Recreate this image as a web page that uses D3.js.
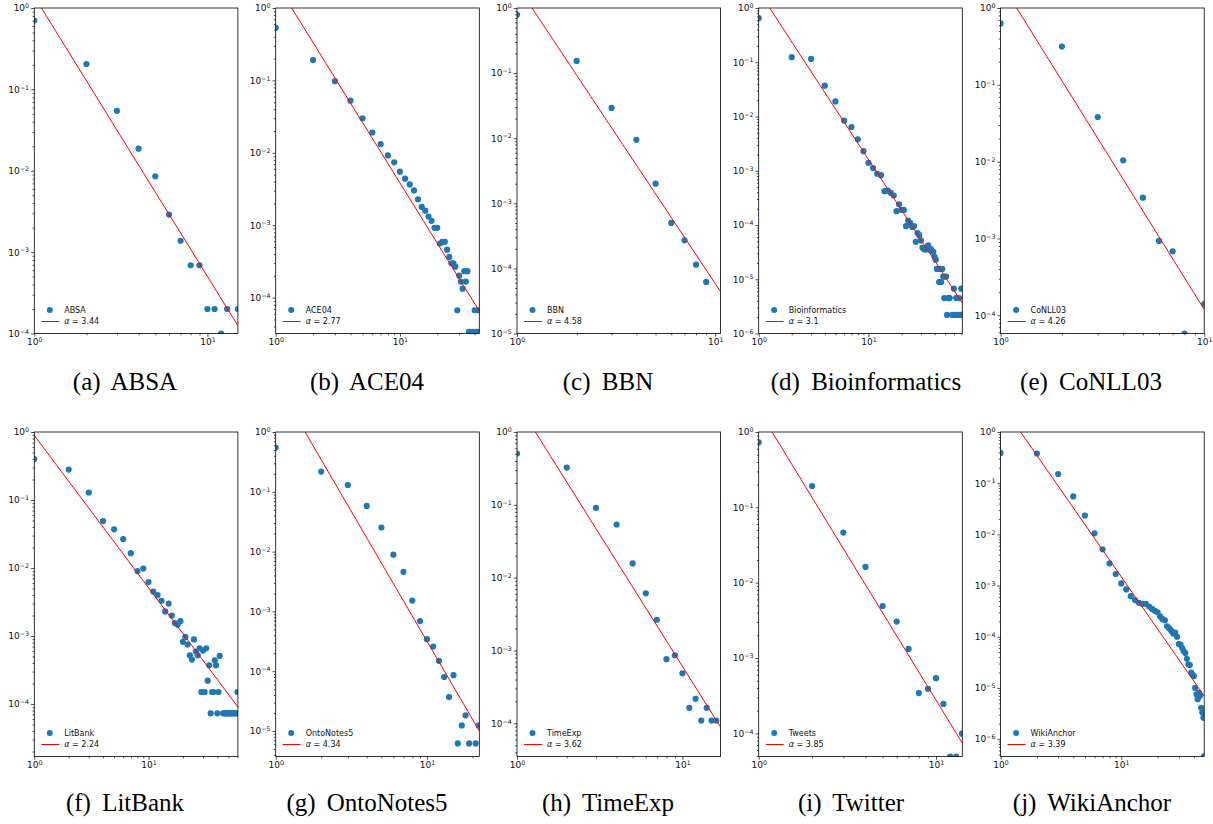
<!DOCTYPE html>
<html>
<head>
<meta charset="utf-8">
<script src="https://cdn.jsdelivr.net/npm/d3@7"></script>
<style>
  body { margin: 0; background: #fff; }
  svg { display: block; }
</style>
</head>
<body>
<svg id="chart" width="1213" height="824"></svg>
<script>
// Entity-length distributions: [length, relative frequency]
const absa = [[1,0.70],[2,0.205],[3,0.0545],[4,0.0187],[5,0.00855],[6,0.00289],[7,0.00138],[8,0.00069],[9,0.00069],[10,0.0002],[11,0.0002],[12,0.0001],[13,0.0002],[15,0.0002]];
const ace04 = [[1,0.532],[2,0.191],[3,0.0976],[4,0.0525],[5,0.030],[6,0.0191],[7,0.0132],[8,0.0092],[9,0.0074],[10,0.0055],[11,0.0044],[12,0.00366],[13,0.00303],[14,0.00228],[15,0.00179],[16,0.00159],[17,0.00132],[18,0.00115],[19,0.00092],[20,0.00092],[21,0.00056],[22,0.00059],[23,0.00059],[24,0.00046],[25,0.000365],[26,0.000298],[27,0.000298],[28,0.000268],[29,0.000067],[30,0.000202],[31,0.000167],[32,0.000133],[33,0.000232],[34,0.000167],[35,0.000232],[36,0.0000337],[37,0.0000337],[39,0.0000337],[40,0.000067],[41,0.0000337],[42,0.0000337],[43,0.000067]];
const bbn = [[1,0.79],[2,0.154],[3,0.0292],[4,0.00945],[5,0.002],[6,0.0005],[7,0.00027],[8,0.000114],[9,0.000062]];
const bioinformatics = [[1,0.65],[2,0.124],[3,0.115],[4,0.037],[5,0.019],[6,0.0084],[7,0.0064],[8,0.0038],[9,0.0023],[10,0.0014],[11,0.00112],[12,0.00088],[13,0.00083],[14,0.00042],[15,0.00043],[16,0.00039],[17,0.00035],[18,0.00018],[19,0.00024],[20,0.00019],[21,0.00019],[22,0.000095],[23,0.00012],[24,0.00011],[25,0.000092],[26,0.000095],[27,0.000049],[28,0.000071],[29,0.000065],[30,0.000052],[31,0.000038],[32,0.000036],[33,0.000035],[34,0.000037],[35,0.000042],[36,0.000035],[37,0.000036],[38,0.000033],[39,0.000032],[40,0.000026],[41,0.000023],[42,0.0000155],[43,0.0000155],[44,0.0000089],[45,0.0000155],[46,0.0000089],[47,0.0000155],[48,0.0000112],[49,0.0000045],[50,0.0000112],[51,0.0000112],[52,0.0000022],[53,0.0000045],[54,0.0000045],[55,0.0000045],[58,0.0000022],[60,0.0000067],[61,0.0000022],[63,0.0000045],[64,0.0000022],[66,0.0000022],[67,0.0000045],[69,0.0000022],[70,0.0000067],[71,0.0000022]];
const conll03 = [[1,0.63],[2,0.315],[3,0.038],[4,0.0104],[5,0.0034],[6,0.00093],[7,0.00068],[8,0.000058],[10,0.00014]];
const litbank = [[1,0.40],[2,0.28],[3,0.129],[4,0.049],[5,0.037],[6,0.0267],[7,0.0165],[8,0.0090],[9,0.0098],[10,0.0062],[11,0.0045],[12,0.0040],[13,0.0033],[14,0.0023],[15,0.0030],[16,0.0020],[17,0.00155],[18,0.00146],[19,0.00165],[20,0.00082],[21,0.00097],[22,0.00075],[23,0.00052],[24,0.00045],[25,0.00089],[26,0.00059],[27,0.00052],[28,0.00066],[29,0.00015],[30,0.00061],[31,0.00015],[32,0.00066],[33,0.00022],[34,0.00037],[35,0.000073],[36,0.00015],[37,0.00015],[38,0.00044],[39,0.00037],[40,0.000073],[41,0.00015],[42,0.00051],[45,0.000073],[46,0.000073],[47,0.000073],[48,0.000073],[49,0.000073],[50,0.000073],[51,0.000073],[52,0.000073],[53,0.000073],[55,0.000073],[56,0.000073],[58,0.000073],[59,0.000073],[60,0.00015]];
const ontonotes5 = [[1,0.55],[2,0.218],[3,0.13],[4,0.058],[5,0.0253],[6,0.0089],[7,0.0046],[8,0.00152],[9,0.00069],[10,0.000344],[11,0.000259],[12,0.000149],[13,0.00008],[14,0.000037],[15,0.000086],[16,0.0000062],[17,0.0000124],[18,0.0000183],[19,0.0000062],[21,0.0000062],[22,0.0000124]];
const timeexp = [[1,0.507],[2,0.325],[3,0.091],[4,0.0537],[5,0.0157],[6,0.0061],[7,0.00264],[8,0.00076],[9,0.00086],[10,0.000485],[11,0.000163],[12,0.000217],[13,0.000109],[14,0.000163],[15,0.000109],[16,0.000109]];
const tweets = [[1,0.73],[2,0.192],[3,0.0462],[4,0.0162],[5,0.0049],[6,0.00305],[7,0.00132],[8,0.000343],[9,0.00039],[10,0.00054],[11,0.000246],[12,0.0000493],[13,0.0000493],[14,0.000099]];
const wikianchor = [[1,0.39],[2,0.38],[3,0.151],[4,0.055],[5,0.0233],[6,0.0105],[7,0.0051],[8,0.0027],[9,0.00168],[10,0.0011],[11,0.00084],[12,0.00062],[13,0.00052],[14,0.00046],[15,0.00044],[16,0.00044],[17,0.00039],[18,0.00035],[19,0.00032],[20,0.00030],[21,0.00025],[22,0.00022],[23,0.00021],[24,0.00016],[25,0.000145],[26,0.00013],[27,0.000115],[28,0.00012],[29,0.0001],[30,0.000072],[31,0.00007],[32,0.00006],[33,0.000052],[34,0.000048],[35,0.000037],[36,0.000029],[37,0.000028],[38,0.00002],[39,0.000018],[40,0.000017],[41,0.00001],[42,0.0000075],[43,0.000006],[44,0.000008],[45,0.000007],[46,0.0000041],[47,0.0000033],[48,0.0000026],[48.5,0.00000046]];

const series = [absa, ace04, bbn, bioinformatics, conll03, litbank, ontonotes5, timeexp, tweets, wikianchor];
const legendNames = ["ABSA", "ACE04", "BBN", "Bioinformatics", "CoNLL03", "LitBank", "OntoNotes5", "TimeExp", "Tweets", "WikiAnchor"];
const captionNames = ["ABSA", "ACE04", "BBN", "Bioinformatics", "CoNLL03", "LitBank", "OntoNotes5", "TimeExp", "Twitter", "WikiAnchor"];
const letters = ["a", "b", "c", "d", "e", "f", "g", "h", "i", "j"];
// Fitted power law: p(x) = scale * x^(-alpha)
const alphas = [3.44, 2.77, 4.58, 3.1, 4.26, 2.24, 4.34, 3.62, 3.85, 3.39];
const fitScales = [1.387, 2.27, 2.22, 2.04, 2.17, 0.89, 6.97, 2.52, 1.95, 3.65];
// Axis limits
const xMaxes = [15.0, 43.6, 10.64, 71.6, 10, 60.6, 22.2, 17.0, 14.06, 48.7];
const yMins = [1e-4, 3.2e-5, 1e-5, 1e-6, 5.8e-5, 1.69e-5, 3.75e-6, 3.5e-5, 4.93e-5, 4.57e-7];

// Layout of the 2 x 5 grid
const colLeft = [34.3, 275.7, 517, 758.7, 1000.6];
const plotW = 203.6;
const rowTop = [8, 432];
const rowBottom = [333.5, 756.5];
const captionX = [[125, 367, 608, 866, 1091], [125, 367, 608, 851, 1092]];
const captionY = [390, 811];

const svg = d3.select("#chart");
const blue = "#1f77b4";
const tickFont = "'DejaVu Sans', sans-serif";

function supLabel(sel, d) {
  const e = Math.round(Math.log10(d));
  sel.text("10");
  sel.append("tspan")
    .attr("dy", "-0.5em")
    .attr("font-size", "0.7em")
    .text(e < 0 ? "\u2212" + (-e) : String(e));
}

series.forEach((data, i) => {
  const row = Math.floor(i / 5), col = i % 5;
  const L = colLeft[col], T = rowTop[row], B = rowBottom[row], W = plotW, H = B - T;
  const g = svg.append("g").attr("transform", `translate(${L},${T})`);

  const x = d3.scaleLog().domain([1, xMaxes[i]]).range([0, W]);
  const y = d3.scaleLog().domain([yMins[i], 1]).range([H, 0]);

  const clipId = "clip" + i;
  g.append("clipPath").attr("id", clipId)
    .append("rect").attr("width", W).attr("height", H);

  // major / minor tick values
  const xMajor = [], xMinor = [], yMajor = [], yMinor = [];
  for (let e = 0; e <= 2; e++) {
    const base = Math.pow(10, e);
    if (base <= xMaxes[i] * 1.0001) xMajor.push(base);
    for (let m = 2; m <= 9; m++) if (m * base <= xMaxes[i]) xMinor.push(m * base);
  }
  for (let e = -7; e <= 0; e++) {
    const base = Math.pow(10, e);
    if (base >= yMins[i] * 0.9999) yMajor.push(base);
    for (let m = 2; m <= 9; m++) if (m * base >= yMins[i] && m * base < 1) yMinor.push(m * base);
  }

  const xAxis = g.append("g").attr("transform", `translate(0,${H})`)
    .call(d3.axisBottom(x).tickValues(xMajor).tickSize(3.2).tickPadding(2).tickFormat(""));
  xAxis.selectAll(".tick text").each(function(d) { supLabel(d3.select(this), d); });
  g.append("g").attr("transform", `translate(0,${H})`)
    .call(d3.axisBottom(x).tickValues(xMinor).tickSize(1.8).tickFormat(""));

  const yAxis = g.append("g")
    .call(d3.axisLeft(y).tickValues(yMajor).tickSize(3.2).tickPadding(2).tickFormat(""));
  yAxis.selectAll(".tick text").each(function(d) { supLabel(d3.select(this), d); });
  g.append("g")
    .call(d3.axisLeft(y).tickValues(yMinor).tickSize(1.8).tickFormat(""));

  g.selectAll(".domain").remove();
  g.selectAll(".tick line").attr("stroke", "#000").attr("stroke-width", 0.7);
  g.selectAll(".tick text")
    .attr("font-family", tickFont).attr("font-size", 9).attr("fill", "#111");

  // data points
  g.append("g").attr("clip-path", `url(#${clipId})`)
    .selectAll("circle").data(data).join("circle")
    .attr("cx", d => x(d[0])).attr("cy", d => y(d[1]))
    .attr("r", 3.1).attr("fill", blue);

  // fitted power law
  const fit = [1, xMaxes[i]].map(v => [v, fitScales[i] * Math.pow(v, -alphas[i])]);
  g.append("path").attr("clip-path", `url(#${clipId})`)
    .datum(fit)
    .attr("d", d3.line().x(d => x(d[0])).y(d => y(d[1])))
    .attr("fill", "none").attr("stroke", "#ff0000").attr("stroke-width", 1);

  // frame
  g.append("rect").attr("width", W).attr("height", H)
    .attr("fill", "none").attr("stroke", "#000").attr("stroke-width", 0.8);

  // legend
  const lg = g.append("g").attr("font-family", tickFont).attr("font-size", 8).attr("fill", "#111");
  lg.append("circle").attr("cx", 15.5).attr("cy", H - 23.5).attr("r", 3).attr("fill", blue);
  lg.append("text").attr("x", 30).attr("y", H - 23.5).attr("dy", "0.35em").text(legendNames[i]);
  lg.append("line").attr("x1", 7).attr("x2", 25).attr("y1", H - 12).attr("y2", H - 12)
    .attr("stroke", "#ff0000").attr("stroke-width", 1);
  const at = lg.append("text").attr("x", 30).attr("y", H - 12).attr("dy", "0.35em");
  at.append("tspan").attr("font-style", "italic").text("\u03b1");
  at.append("tspan").text(" = " + alphas[i]);

  // sub-caption
  svg.append("text")
    .attr("x", captionX[row][col]).attr("y", captionY[row])
    .attr("text-anchor", "middle")
    .attr("font-family", "'Liberation Serif', 'Times New Roman', serif")
    .attr("font-size", 25).attr("fill", "#000")
    .attr("word-spacing", 5)
    .text(`(${letters[i]}) ${captionNames[i]}`);
});
</script>
</body>
</html>
